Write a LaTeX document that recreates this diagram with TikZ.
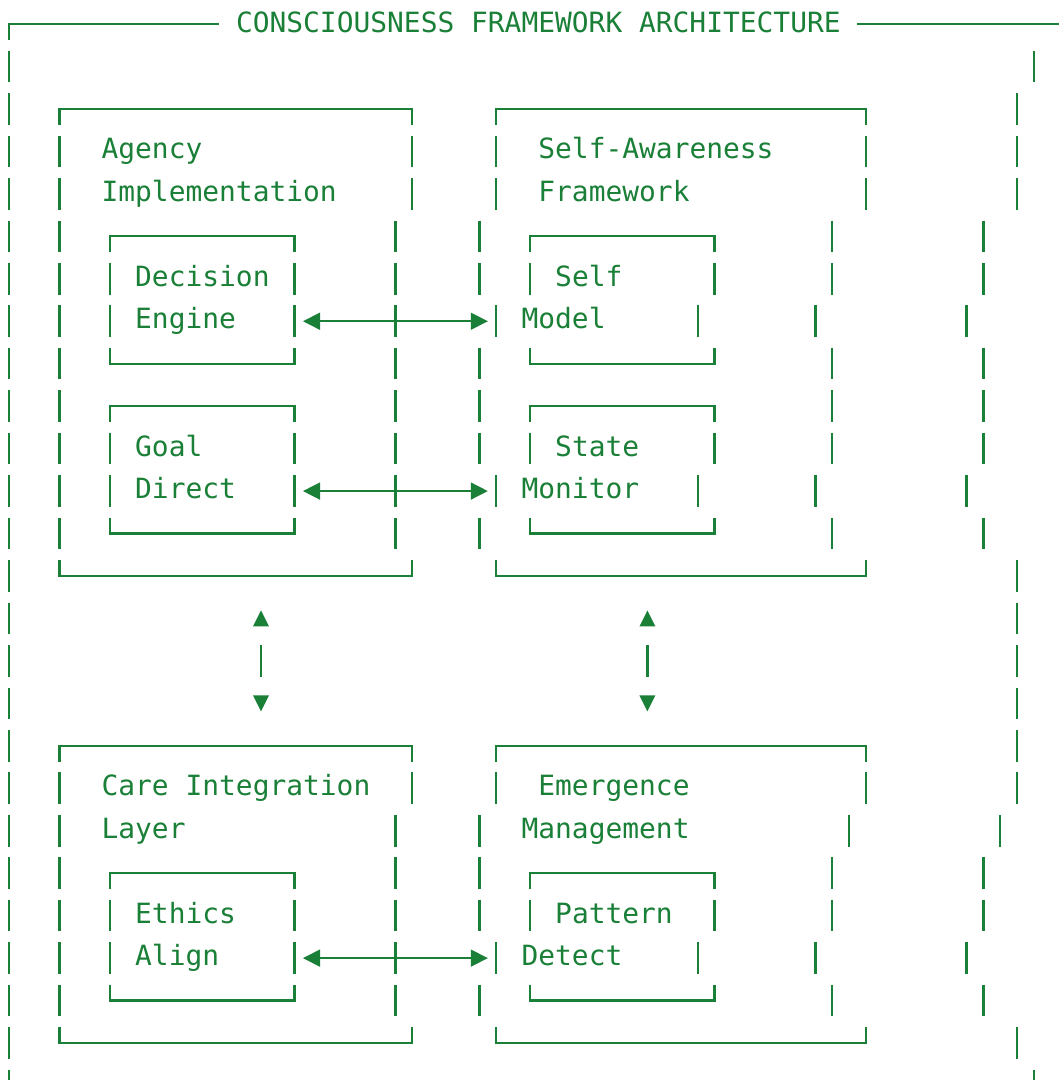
\documentclass[tikz,border=0pt]{standalone}
\usepackage{fontspec}
\setmonofont{DejaVu Sans Mono}
\usetikzlibrary{arrows.meta}
\definecolor{fg}{HTML}{1A7F37}
\tikzset{
  ln/.style={draw=fg, line width=2.3pt},
  txt/.style={anchor=base west, inner sep=0pt, text=fg, font=\fontsize{27.9pt}{34pt}\selectfont\ttfamily},
  tri/.style={fill=fg},
}
\newcommand\ascBars[2]{\foreach \c in {#2} {\draw[ln] (\c,#1-0.372) -- (\c,#1+0.372);}}
\newcommand\ascTop[3]{\draw[ln] (#1,#3+0.372) -- (#1,#3) -- (#2,#3) -- (#2,#3+0.372);}
\newcommand\ascBot[3]{\draw[ln] (#1,#3-0.372) -- (#1,#3) -- (#2,#3) -- (#2,#3-0.372);}
\newcommand\ascDbl[2]{%
  \draw[ln, shorten <=8pt, shorten >=8pt] (#1) -- (#2);
  \fill[tri] (#1) -- ([shift={(17pt,8.7pt)}]#1) -- ([shift={(17pt,-8.7pt)}]#1) -- cycle;
  \fill[tri] (#2) -- ([shift={(-17pt,8.7pt)}]#2) -- ([shift={(-17pt,-8.7pt)}]#2) -- cycle;}
\begin{document}
\begin{tikzpicture}
\useasboundingbox (0,0) rectangle (1059pt,-1080pt);
\begin{scope}[x=16.8pt, y=-42.46pt, shift={(9pt,-24pt)}]
% line 0: title border
\draw[ln] (0,0.372) -- (0,0) -- (12.5,0);
\draw[ln] (50.5,0) -- (63,0);
\node[txt] (title) at (13.5,0.2) {CONSCIOUSNESS FRAMEWORK ARCHITECTURE};
% line 1-4
\ascBars{1}{0,61}
\ascBars{2}{0,60}
\ascTop{3}{24}{2} \ascTop{29}{51}{2}
\ascBars{3}{0,3,24,29,51,60}
\ascBars{4}{0,3,24,29,51,60}
\node[txt] (agency) at (5.5,3.177) {Agency};
\node[txt] (impl) at (5.5,4.177) {Implementation};
\node[txt] (selfaw) at (31.5,3.177) {Self-Awareness};
\node[txt] (framew) at (31.5,4.177) {Framework};
% lines 5-8
\ascBars{5}{0,3,23,28,49,58}
\ascTop{6}{17}{5} \ascTop{31}{42}{5}
\ascBars{6}{0,3,6,17,23,28,31,42,49,58}
\ascBars{7}{0,3,6,17,23,29,41,48,57}
\ascBars{8}{0,3,23,28,49,58}
\ascBot{6}{17}{8} \ascBot{31}{42}{8}
\node[txt] (decision) at (7.5,6.177) {Decision};
\node[txt] (engine) at (7.5,7.177) {Engine};
\node[txt] (selfm) at (32.5,6.177) {Self};
\node[txt] (model) at (30.5,7.177) {Model};
\coordinate (l7) at (17.5,7); \coordinate (r7) at (28.5,7);
\ascDbl{l7}{r7}
% lines 9-12
\ascBars{9}{0,3,23,28,49,58}
\ascTop{6}{17}{9} \ascTop{31}{42}{9}
\ascBars{10}{0,3,6,17,23,28,31,42,49,58}
\ascBars{11}{0,3,6,17,23,29,41,48,57}
\ascBars{12}{0,3,23,28,49,58}
\ascBot{6}{17}{12} \ascBot{31}{42}{12}
\node[txt] (goal) at (7.5,10.177) {Goal};
\node[txt] (direct) at (7.5,11.177) {Direct};
\node[txt] (state) at (32.5,10.177) {State};
\node[txt] (monitor) at (30.5,11.177) {Monitor};
\coordinate (l11) at (17.5,11); \coordinate (r11) at (28.5,11);
\ascDbl{l11}{r11}
% line 13
\ascBars{13}{0,60}
\ascBot{3}{24}{13} \ascBot{29}{51}{13}
% lines 14-16 vertical arrows
\ascBars{14}{0,60}
\ascBars{15}{0,60}
\ascBars{16}{0,60}
\coordinate (ua) at (15,14); \coordinate (da) at (15,16);
\coordinate (ub) at (38,14); \coordinate (db) at (38,16);
\foreach \u/\d in {ua/da, ub/db} {
  \fill[tri] ([yshift=8pt]\u) -- ([shift={(8pt,-8pt)}]\u) -- ([shift={(-8pt,-8pt)}]\u) -- cycle;
  \fill[tri] ([yshift=-8pt]\d) -- ([shift={(8pt,8pt)}]\d) -- ([shift={(-8pt,8pt)}]\d) -- cycle;
  \draw[ln, shorten <=26.7pt, shorten >=26.7pt] (\u) -- (\d);
}
% lines 17-19
\ascBars{17}{0,60}
\ascTop{3}{24}{17} \ascTop{29}{51}{17}
\ascBars{18}{0,3,24,29,51,60}
\ascBars{19}{0,3,23,28,50,59}
\node[txt] (care) at (5.5,18.177) {Care Integration};
\node[txt] (layer) at (5.5,19.177) {Layer};
\node[txt] (emerg) at (31.5,18.177) {Emergence};
\node[txt] (manag) at (30.5,19.177) {Management};
% lines 20-23
\ascBars{20}{0,3,23,28,49,58}
\ascTop{6}{17}{20} \ascTop{31}{42}{20}
\ascBars{21}{0,3,6,17,23,28,31,42,49,58}
\ascBars{22}{0,3,6,17,23,29,41,48,57}
\ascBars{23}{0,3,23,28,49,58}
\ascBot{6}{17}{23} \ascBot{31}{42}{23}
\node[txt] (ethics) at (7.5,21.177) {Ethics};
\node[txt] (align) at (7.5,22.177) {Align};
\node[txt] (pattern) at (32.5,21.177) {Pattern};
\node[txt] (detect) at (30.5,22.177) {Detect};
\coordinate (l22) at (17.5,22); \coordinate (r22) at (28.5,22);
\ascDbl{l22}{r22}
% lines 24-25
\ascBars{24}{0,60}
\ascBot{3}{24}{24} \ascBot{29}{51}{24}
\ascBars{25}{0,61}
\end{scope}
\end{tikzpicture}
\end{document}
